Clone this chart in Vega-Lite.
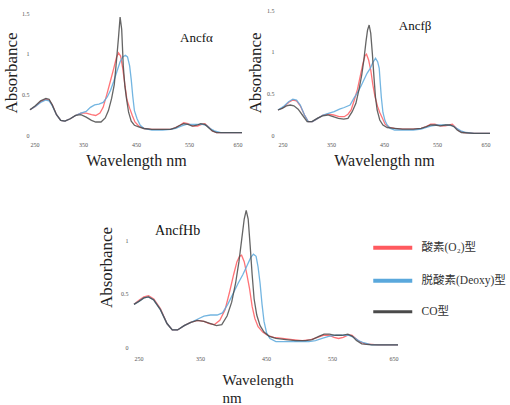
{
"$schema": "https://vega.github.io/schema/vega-lite/v6.json",
"background": "white",
"padding": {"left": 2, "top": 7, "right": 0, "bottom": 0},
"spacing": 19,
"resolve": {"scale": {"color": "independent"}, "legend": {"color": "independent"}},
"config": {
  "view": {"stroke": null},
  "font": "Liberation Serif",
  "axis": {"domain": false, "ticks": false, "grid": false, "labelFont": "Liberation Serif", "labelFontSize": 6, "labelColor": "#555555", "titleFont": "Liberation Serif", "titleFontSize": 16, "titleFontWeight": "normal", "titleColor": "#222222"}
},
"datasets": {
"alpha": [
{"s":"O","w":250,"a":0.31},{"s":"O","w":260,"a":0.35},{"s":"O","w":270,"a":0.41},{"s":"O","w":280,"a":0.44},{"s":"O","w":286,"a":0.43},{"s":"O","w":292,"a":0.37},{"s":"O","w":300,"a":0.25},{"s":"O","w":308,"a":0.18},{"s":"O","w":316,"a":0.17},{"s":"O","w":326,"a":0.2},{"s":"O","w":336,"a":0.24},{"s":"O","w":346,"a":0.27},{"s":"O","w":356,"a":0.27},{"s":"O","w":366,"a":0.25},{"s":"O","w":374,"a":0.24},{"s":"O","w":382,"a":0.27},{"s":"O","w":388,"a":0.34},{"s":"O","w":395,"a":0.5},{"s":"O","w":402,"a":0.67},{"s":"O","w":408,"a":0.82},{"s":"O","w":413,"a":0.95},{"s":"O","w":417,"a":1.01},{"s":"O","w":421,"a":0.97},{"s":"O","w":425,"a":0.82},{"s":"O","w":429,"a":0.62},{"s":"O","w":433,"a":0.43},{"s":"O","w":438,"a":0.33},{"s":"O","w":443,"a":0.24},{"s":"O","w":448,"a":0.16},{"s":"O","w":455,"a":0.11},{"s":"O","w":465,"a":0.08},{"s":"O","w":480,"a":0.07},{"s":"O","w":500,"a":0.07},{"s":"O","w":515,"a":0.07},{"s":"O","w":525,"a":0.09},{"s":"O","w":533,"a":0.12},{"s":"O","w":540,"a":0.15},{"s":"O","w":548,"a":0.14},{"s":"O","w":558,"a":0.11},{"s":"O","w":566,"a":0.11},{"s":"O","w":574,"a":0.13},{"s":"O","w":580,"a":0.14},{"s":"O","w":587,"a":0.1},{"s":"O","w":594,"a":0.05},{"s":"O","w":602,"a":0.03},{"s":"O","w":620,"a":0.03},{"s":"O","w":650,"a":0.03},
{"s":"D","w":250,"a":0.31},{"s":"D","w":260,"a":0.35},{"s":"D","w":270,"a":0.4},{"s":"D","w":280,"a":0.43},{"s":"D","w":286,"a":0.42},{"s":"D","w":292,"a":0.36},{"s":"D","w":300,"a":0.25},{"s":"D","w":308,"a":0.18},{"s":"D","w":316,"a":0.17},{"s":"D","w":326,"a":0.2},{"s":"D","w":336,"a":0.24},{"s":"D","w":346,"a":0.27},{"s":"D","w":356,"a":0.29},{"s":"D","w":364,"a":0.34},{"s":"D","w":372,"a":0.37},{"s":"D","w":380,"a":0.38},{"s":"D","w":388,"a":0.4},{"s":"D","w":396,"a":0.47},{"s":"D","w":402,"a":0.55},{"s":"D","w":408,"a":0.66},{"s":"D","w":414,"a":0.78},{"s":"D","w":420,"a":0.9},{"s":"D","w":425,"a":0.96},{"s":"D","w":430,"a":0.98},{"s":"D","w":434,"a":0.96},{"s":"D","w":438,"a":0.85},{"s":"D","w":441,"a":0.68},{"s":"D","w":444,"a":0.47},{"s":"D","w":447,"a":0.3},{"s":"D","w":452,"a":0.2},{"s":"D","w":458,"a":0.12},{"s":"D","w":465,"a":0.08},{"s":"D","w":480,"a":0.06},{"s":"D","w":500,"a":0.06},{"s":"D","w":515,"a":0.07},{"s":"D","w":525,"a":0.08},{"s":"D","w":535,"a":0.11},{"s":"D","w":545,"a":0.13},{"s":"D","w":555,"a":0.13},{"s":"D","w":565,"a":0.13},{"s":"D","w":575,"a":0.13},{"s":"D","w":583,"a":0.12},{"s":"D","w":590,"a":0.08},{"s":"D","w":598,"a":0.05},{"s":"D","w":610,"a":0.03},{"s":"D","w":650,"a":0.03},
{"s":"C","w":250,"a":0.31},{"s":"C","w":260,"a":0.36},{"s":"C","w":270,"a":0.42},{"s":"C","w":280,"a":0.45},{"s":"C","w":286,"a":0.44},{"s":"C","w":292,"a":0.37},{"s":"C","w":300,"a":0.25},{"s":"C","w":308,"a":0.18},{"s":"C","w":316,"a":0.17},{"s":"C","w":326,"a":0.2},{"s":"C","w":336,"a":0.24},{"s":"C","w":346,"a":0.25},{"s":"C","w":356,"a":0.22},{"s":"C","w":366,"a":0.18},{"s":"C","w":374,"a":0.16},{"s":"C","w":384,"a":0.16},{"s":"C","w":392,"a":0.21},{"s":"C","w":398,"a":0.3},{"s":"C","w":404,"a":0.45},{"s":"C","w":409,"a":0.62},{"s":"C","w":413,"a":0.9},{"s":"C","w":417,"a":1.2},{"s":"C","w":420,"a":1.45},{"s":"C","w":423,"a":1.3},{"s":"C","w":426,"a":0.85},{"s":"C","w":429,"a":0.6},{"s":"C","w":432,"a":0.45},{"s":"C","w":436,"a":0.28},{"s":"C","w":441,"a":0.17},{"s":"C","w":447,"a":0.12},{"s":"C","w":455,"a":0.1},{"s":"C","w":465,"a":0.08},{"s":"C","w":480,"a":0.07},{"s":"C","w":500,"a":0.07},{"s":"C","w":515,"a":0.07},{"s":"C","w":525,"a":0.09},{"s":"C","w":533,"a":0.12},{"s":"C","w":540,"a":0.14},{"s":"C","w":548,"a":0.13},{"s":"C","w":556,"a":0.11},{"s":"C","w":565,"a":0.12},{"s":"C","w":572,"a":0.14},{"s":"C","w":580,"a":0.13},{"s":"C","w":587,"a":0.09},{"s":"C","w":594,"a":0.05},{"s":"C","w":602,"a":0.03},{"s":"C","w":620,"a":0.03},{"s":"C","w":650,"a":0.03}
],
"beta": [
{"s":"O","w":250,"a":0.3},{"s":"O","w":260,"a":0.33},{"s":"O","w":270,"a":0.39},{"s":"O","w":278,"a":0.42},{"s":"O","w":285,"a":0.41},{"s":"O","w":292,"a":0.35},{"s":"O","w":300,"a":0.24},{"s":"O","w":307,"a":0.16},{"s":"O","w":315,"a":0.16},{"s":"O","w":325,"a":0.2},{"s":"O","w":335,"a":0.24},{"s":"O","w":345,"a":0.25},{"s":"O","w":355,"a":0.24},{"s":"O","w":365,"a":0.22},{"s":"O","w":375,"a":0.22},{"s":"O","w":382,"a":0.25},{"s":"O","w":388,"a":0.3},{"s":"O","w":394,"a":0.42},{"s":"O","w":400,"a":0.55},{"s":"O","w":405,"a":0.7},{"s":"O","w":410,"a":0.85},{"s":"O","w":414,"a":0.95},{"s":"O","w":417,"a":0.97},{"s":"O","w":421,"a":0.9},{"s":"O","w":425,"a":0.78},{"s":"O","w":429,"a":0.6},{"s":"O","w":433,"a":0.46},{"s":"O","w":438,"a":0.34},{"s":"O","w":442,"a":0.27},{"s":"O","w":447,"a":0.2},{"s":"O","w":452,"a":0.13},{"s":"O","w":460,"a":0.09},{"s":"O","w":470,"a":0.08},{"s":"O","w":485,"a":0.07},{"s":"O","w":505,"a":0.07},{"s":"O","w":520,"a":0.08},{"s":"O","w":530,"a":0.1},{"s":"O","w":538,"a":0.13},{"s":"O","w":546,"a":0.13},{"s":"O","w":556,"a":0.11},{"s":"O","w":565,"a":0.11},{"s":"O","w":573,"a":0.12},{"s":"O","w":579,"a":0.13},{"s":"O","w":585,"a":0.09},{"s":"O","w":592,"a":0.05},{"s":"O","w":600,"a":0.03},{"s":"O","w":620,"a":0.02},{"s":"O","w":650,"a":0.02},
{"s":"D","w":250,"a":0.3},{"s":"D","w":260,"a":0.34},{"s":"D","w":270,"a":0.4},{"s":"D","w":278,"a":0.43},{"s":"D","w":285,"a":0.42},{"s":"D","w":292,"a":0.36},{"s":"D","w":300,"a":0.24},{"s":"D","w":307,"a":0.16},{"s":"D","w":315,"a":0.16},{"s":"D","w":325,"a":0.2},{"s":"D","w":335,"a":0.24},{"s":"D","w":345,"a":0.26},{"s":"D","w":356,"a":0.28},{"s":"D","w":366,"a":0.31},{"s":"D","w":375,"a":0.33},{"s":"D","w":386,"a":0.36},{"s":"D","w":393,"a":0.44},{"s":"D","w":399,"a":0.5},{"s":"D","w":406,"a":0.58},{"s":"D","w":412,"a":0.66},{"s":"D","w":418,"a":0.74},{"s":"D","w":424,"a":0.8},{"s":"D","w":429,"a":0.87},{"s":"D","w":434,"a":0.92},{"s":"D","w":438,"a":0.88},{"s":"D","w":441,"a":0.8},{"s":"D","w":443,"a":0.62},{"s":"D","w":445,"a":0.45},{"s":"D","w":448,"a":0.27},{"s":"D","w":452,"a":0.17},{"s":"D","w":456,"a":0.12},{"s":"D","w":462,"a":0.08},{"s":"D","w":470,"a":0.06},{"s":"D","w":485,"a":0.06},{"s":"D","w":505,"a":0.06},{"s":"D","w":520,"a":0.07},{"s":"D","w":530,"a":0.09},{"s":"D","w":540,"a":0.11},{"s":"D","w":550,"a":0.12},{"s":"D","w":560,"a":0.12},{"s":"D","w":570,"a":0.12},{"s":"D","w":580,"a":0.11},{"s":"D","w":587,"a":0.08},{"s":"D","w":595,"a":0.05},{"s":"D","w":605,"a":0.03},{"s":"D","w":620,"a":0.02},{"s":"D","w":650,"a":0.02},
{"s":"C","w":250,"a":0.3},{"s":"C","w":258,"a":0.32},{"s":"C","w":266,"a":0.35},{"s":"C","w":273,"a":0.36},{"s":"C","w":280,"a":0.35},{"s":"C","w":288,"a":0.31},{"s":"C","w":296,"a":0.24},{"s":"C","w":305,"a":0.16},{"s":"C","w":314,"a":0.16},{"s":"C","w":324,"a":0.2},{"s":"C","w":334,"a":0.23},{"s":"C","w":344,"a":0.24},{"s":"C","w":354,"a":0.22},{"s":"C","w":364,"a":0.2},{"s":"C","w":374,"a":0.19},{"s":"C","w":382,"a":0.2},{"s":"C","w":390,"a":0.28},{"s":"C","w":397,"a":0.38},{"s":"C","w":403,"a":0.55},{"s":"C","w":408,"a":0.72},{"s":"C","w":412,"a":0.9},{"s":"C","w":416,"a":1.12},{"s":"C","w":419,"a":1.26},{"s":"C","w":422,"a":1.32},{"s":"C","w":425,"a":1.22},{"s":"C","w":428,"a":0.98},{"s":"C","w":431,"a":0.7},{"s":"C","w":434,"a":0.45},{"s":"C","w":437,"a":0.3},{"s":"C","w":442,"a":0.18},{"s":"C","w":448,"a":0.12},{"s":"C","w":456,"a":0.09},{"s":"C","w":470,"a":0.08},{"s":"C","w":485,"a":0.07},{"s":"C","w":505,"a":0.07},{"s":"C","w":520,"a":0.08},{"s":"C","w":530,"a":0.1},{"s":"C","w":538,"a":0.12},{"s":"C","w":546,"a":0.12},{"s":"C","w":556,"a":0.11},{"s":"C","w":566,"a":0.12},{"s":"C","w":575,"a":0.12},{"s":"C","w":582,"a":0.1},{"s":"C","w":588,"a":0.06},{"s":"C","w":596,"a":0.03},{"s":"C","w":620,"a":0.02},{"s":"C","w":650,"a":0.02}
],
"hb": [
{"s":"O","w":250,"a":0.4},{"s":"O","w":258,"a":0.44},{"s":"O","w":265,"a":0.47},{"s":"O","w":272,"a":0.48},{"s":"O","w":280,"a":0.45},{"s":"O","w":290,"a":0.36},{"s":"O","w":300,"a":0.22},{"s":"O","w":308,"a":0.16},{"s":"O","w":316,"a":0.16},{"s":"O","w":326,"a":0.2},{"s":"O","w":336,"a":0.23},{"s":"O","w":346,"a":0.25},{"s":"O","w":356,"a":0.24},{"s":"O","w":364,"a":0.22},{"s":"O","w":372,"a":0.21},{"s":"O","w":380,"a":0.25},{"s":"O","w":388,"a":0.35},{"s":"O","w":395,"a":0.52},{"s":"O","w":401,"a":0.68},{"s":"O","w":406,"a":0.8},{"s":"O","w":410,"a":0.85},{"s":"O","w":413,"a":0.86},{"s":"O","w":417,"a":0.8},{"s":"O","w":421,"a":0.68},{"s":"O","w":425,"a":0.55},{"s":"O","w":429,"a":0.38},{"s":"O","w":433,"a":0.27},{"s":"O","w":438,"a":0.19},{"s":"O","w":445,"a":0.14},{"s":"O","w":452,"a":0.11},{"s":"O","w":462,"a":0.09},{"s":"O","w":475,"a":0.08},{"s":"O","w":490,"a":0.07},{"s":"O","w":505,"a":0.06},{"s":"O","w":518,"a":0.07},{"s":"O","w":528,"a":0.09},{"s":"O","w":537,"a":0.11},{"s":"O","w":545,"a":0.11},{"s":"O","w":553,"a":0.09},{"s":"O","w":560,"a":0.08},{"s":"O","w":567,"a":0.09},{"s":"O","w":574,"a":0.11},{"s":"O","w":580,"a":0.11},{"s":"O","w":586,"a":0.08},{"s":"O","w":592,"a":0.05},{"s":"O","w":600,"a":0.03},{"s":"O","w":620,"a":0.02},{"s":"O","w":650,"a":0.02},
{"s":"D","w":250,"a":0.4},{"s":"D","w":258,"a":0.43},{"s":"D","w":265,"a":0.46},{"s":"D","w":272,"a":0.47},{"s":"D","w":280,"a":0.44},{"s":"D","w":290,"a":0.35},{"s":"D","w":300,"a":0.22},{"s":"D","w":308,"a":0.16},{"s":"D","w":316,"a":0.16},{"s":"D","w":326,"a":0.2},{"s":"D","w":336,"a":0.23},{"s":"D","w":346,"a":0.26},{"s":"D","w":356,"a":0.29},{"s":"D","w":366,"a":0.3},{"s":"D","w":376,"a":0.3},{"s":"D","w":384,"a":0.32},{"s":"D","w":392,"a":0.4},{"s":"D","w":400,"a":0.5},{"s":"D","w":408,"a":0.6},{"s":"D","w":415,"a":0.68},{"s":"D","w":421,"a":0.76},{"s":"D","w":427,"a":0.84},{"s":"D","w":431,"a":0.87},{"s":"D","w":435,"a":0.85},{"s":"D","w":438,"a":0.75},{"s":"D","w":441,"a":0.6},{"s":"D","w":444,"a":0.4},{"s":"D","w":447,"a":0.24},{"s":"D","w":451,"a":0.13},{"s":"D","w":456,"a":0.08},{"s":"D","w":465,"a":0.05},{"s":"D","w":480,"a":0.05},{"s":"D","w":500,"a":0.05},{"s":"D","w":515,"a":0.05},{"s":"D","w":525,"a":0.06},{"s":"D","w":535,"a":0.08},{"s":"D","w":545,"a":0.1},{"s":"D","w":555,"a":0.11},{"s":"D","w":565,"a":0.11},{"s":"D","w":575,"a":0.11},{"s":"D","w":583,"a":0.09},{"s":"D","w":590,"a":0.06},{"s":"D","w":598,"a":0.04},{"s":"D","w":610,"a":0.02},{"s":"D","w":650,"a":0.02},
{"s":"C","w":250,"a":0.4},{"s":"C","w":258,"a":0.43},{"s":"C","w":265,"a":0.46},{"s":"C","w":272,"a":0.47},{"s":"C","w":280,"a":0.44},{"s":"C","w":290,"a":0.35},{"s":"C","w":300,"a":0.22},{"s":"C","w":308,"a":0.16},{"s":"C","w":316,"a":0.16},{"s":"C","w":326,"a":0.2},{"s":"C","w":336,"a":0.23},{"s":"C","w":346,"a":0.25},{"s":"C","w":356,"a":0.24},{"s":"C","w":366,"a":0.22},{"s":"C","w":375,"a":0.2},{"s":"C","w":383,"a":0.21},{"s":"C","w":391,"a":0.29},{"s":"C","w":398,"a":0.42},{"s":"C","w":404,"a":0.6},{"s":"C","w":409,"a":0.8},{"s":"C","w":413,"a":1.0},{"s":"C","w":417,"a":1.2},{"s":"C","w":420,"a":1.28},{"s":"C","w":423,"a":1.2},{"s":"C","w":426,"a":0.95},{"s":"C","w":429,"a":0.68},{"s":"C","w":432,"a":0.45},{"s":"C","w":436,"a":0.3},{"s":"C","w":441,"a":0.2},{"s":"C","w":447,"a":0.14},{"s":"C","w":455,"a":0.1},{"s":"C","w":465,"a":0.08},{"s":"C","w":480,"a":0.07},{"s":"C","w":495,"a":0.06},{"s":"C","w":510,"a":0.06},{"s":"C","w":520,"a":0.07},{"s":"C","w":530,"a":0.1},{"s":"C","w":538,"a":0.12},{"s":"C","w":546,"a":0.12},{"s":"C","w":555,"a":0.11},{"s":"C","w":565,"a":0.11},{"s":"C","w":574,"a":0.12},{"s":"C","w":581,"a":0.1},{"s":"C","w":587,"a":0.06},{"s":"C","w":595,"a":0.03},{"s":"C","w":610,"a":0.02},{"s":"C","w":650,"a":0.02}
]
},
"vconcat": [
{
"bounds": "flush",
"spacing": 36,
"hconcat": [
{
"width": 212, "height": 125,
"layer": [
{"data": {"name": "alpha"},
 "mark": {"type": "line", "strokeWidth": 1.3, "strokeOpacity": 0.85},
 "encoding": {
  "x": {"field": "w", "type": "quantitative", "scale": {"domain": [250, 650], "nice": false, "zero": false}, "axis": {"values": [250, 350, 450, 550, 650], "title": "Wavelength nm", "labelPadding": 6, "titlePadding": 5}},
  "y": {"field": "a", "type": "quantitative", "scale": {"domain": [0, 1.537], "nice": false}, "axis": {"values": [0, 0.5, 1, 1.5], "format": "~g", "title": "Absorbance", "titleFontSize": 17, "labelPadding": 1, "titlePadding": 1}},
  "color": {"field": "s", "type": "nominal", "scale": {"domain": ["O", "D", "C"], "range": ["#ff5a5f", "#5aa8dc", "#4a4a4a"]}, "legend": null}
 }},
{"data": {"values": [{}]},
 "mark": {"type": "text", "text": "Ancfα", "align": "left", "baseline": "alphabetic", "font": "Liberation Serif", "fontSize": 13, "color": "#111111"},
 "encoding": {"x": {"datum": 533}, "y": {"datum": 1.14}}}
]
},
{
"width": 212, "height": 125,
"layer": [
{"data": {"name": "beta"},
 "mark": {"type": "line", "strokeWidth": 1.3, "strokeOpacity": 0.85},
 "encoding": {
  "x": {"field": "w", "type": "quantitative", "scale": {"domain": [250, 650], "nice": false, "zero": false}, "axis": {"values": [250, 350, 450, 550, 650], "title": "Wavelength nm", "labelPadding": 6, "titlePadding": 5}},
  "y": {"field": "a", "type": "quantitative", "scale": {"domain": [0, 1.5], "nice": false}, "axis": {"values": [0, 0.5, 1, 1.5], "format": "~g", "title": "Absorbance", "titleFontSize": 17, "labelPadding": 4, "titlePadding": 2}},
  "color": {"field": "s", "type": "nominal", "scale": {"domain": ["O", "D", "C"], "range": ["#ff5a5f", "#5aa8dc", "#4a4a4a"]}, "legend": null}
 }},
{"data": {"values": [{}]},
 "mark": {"type": "text", "text": "Ancfβ", "align": "left", "baseline": "alphabetic", "font": "Liberation Serif", "fontSize": 13, "color": "#111111"},
 "encoding": {"x": {"datum": 478}, "y": {"datum": 1.26}}}
]
}
]
},
{
"bounds": "flush",
"spacing": 0,
"resolve": {"scale": {"color": "independent"}, "legend": {"color": "independent"}},
"hconcat": [
{"width": 104, "height": 160, "data": {"values": []}, "mark": "point"},
{
"width": 264, "height": 160,
"layer": [
{"data": {"name": "hb"},
 "mark": {"type": "line", "strokeWidth": 1.3, "strokeOpacity": 0.85},
 "encoding": {
  "x": {"field": "w", "type": "quantitative", "scale": {"domain": [250, 650], "nice": false, "zero": false}, "axis": {"values": [250, 350, 450, 550, 650], "title": ["Wavelength", "nm"], "titleFontSize": 15, "titleLineHeight": 18, "titleAlign": "left", "titleX": 88, "labelPadding": 8, "titlePadding": 11}},
  "y": {"field": "a", "type": "quantitative", "scale": {"domain": [0, 1.5], "nice": false}, "axis": {"values": [0, 0.5, 1], "format": "~g", "title": "Absorbance", "titleFontSize": 17, "labelPadding": 6, "titlePadding": 5}},
  "color": {"field": "s", "type": "nominal", "scale": {"domain": ["O", "D", "C"], "range": ["#ff5a5f", "#5aa8dc", "#4a4a4a"]},
   "legend": {"orient": "none", "legendX": 253, "legendY": 55, "title": null, "symbolType": "stroke", "symbolSize": 1521, "symbolStrokeWidth": 4, "labelFont": "Liberation Serif, Noto Sans CJK JP", "labelFontSize": 11.5, "labelColor": "#333333", "labelOffset": 23, "rowPadding": 16,
    "labelExpr": "datum.value === 'O' ? '酸素(O₂)型' : datum.value === 'D' ? '脱酸素(Deoxy)型' : 'CO型'",
    "encode": {"symbols": {"update": {"stroke": {"signal": "datum.value === 'O' ? '#ff2424' : datum.value === 'D' ? '#2383d0' : '#000000'"}, "strokeWidth": {"signal": "datum.value === 'C' ? 3 : 4"}, "opacity": {"value": 1}}}}}}
 }},
{"data": {"values": [{}]},
 "mark": {"type": "text", "text": "AncfHb", "align": "left", "baseline": "alphabetic", "font": "Liberation Serif", "fontSize": 14, "color": "#111111"},
 "encoding": {"x": {"datum": 282}, "y": {"datum": 1.05}}}
]
}
]
}
]
}
